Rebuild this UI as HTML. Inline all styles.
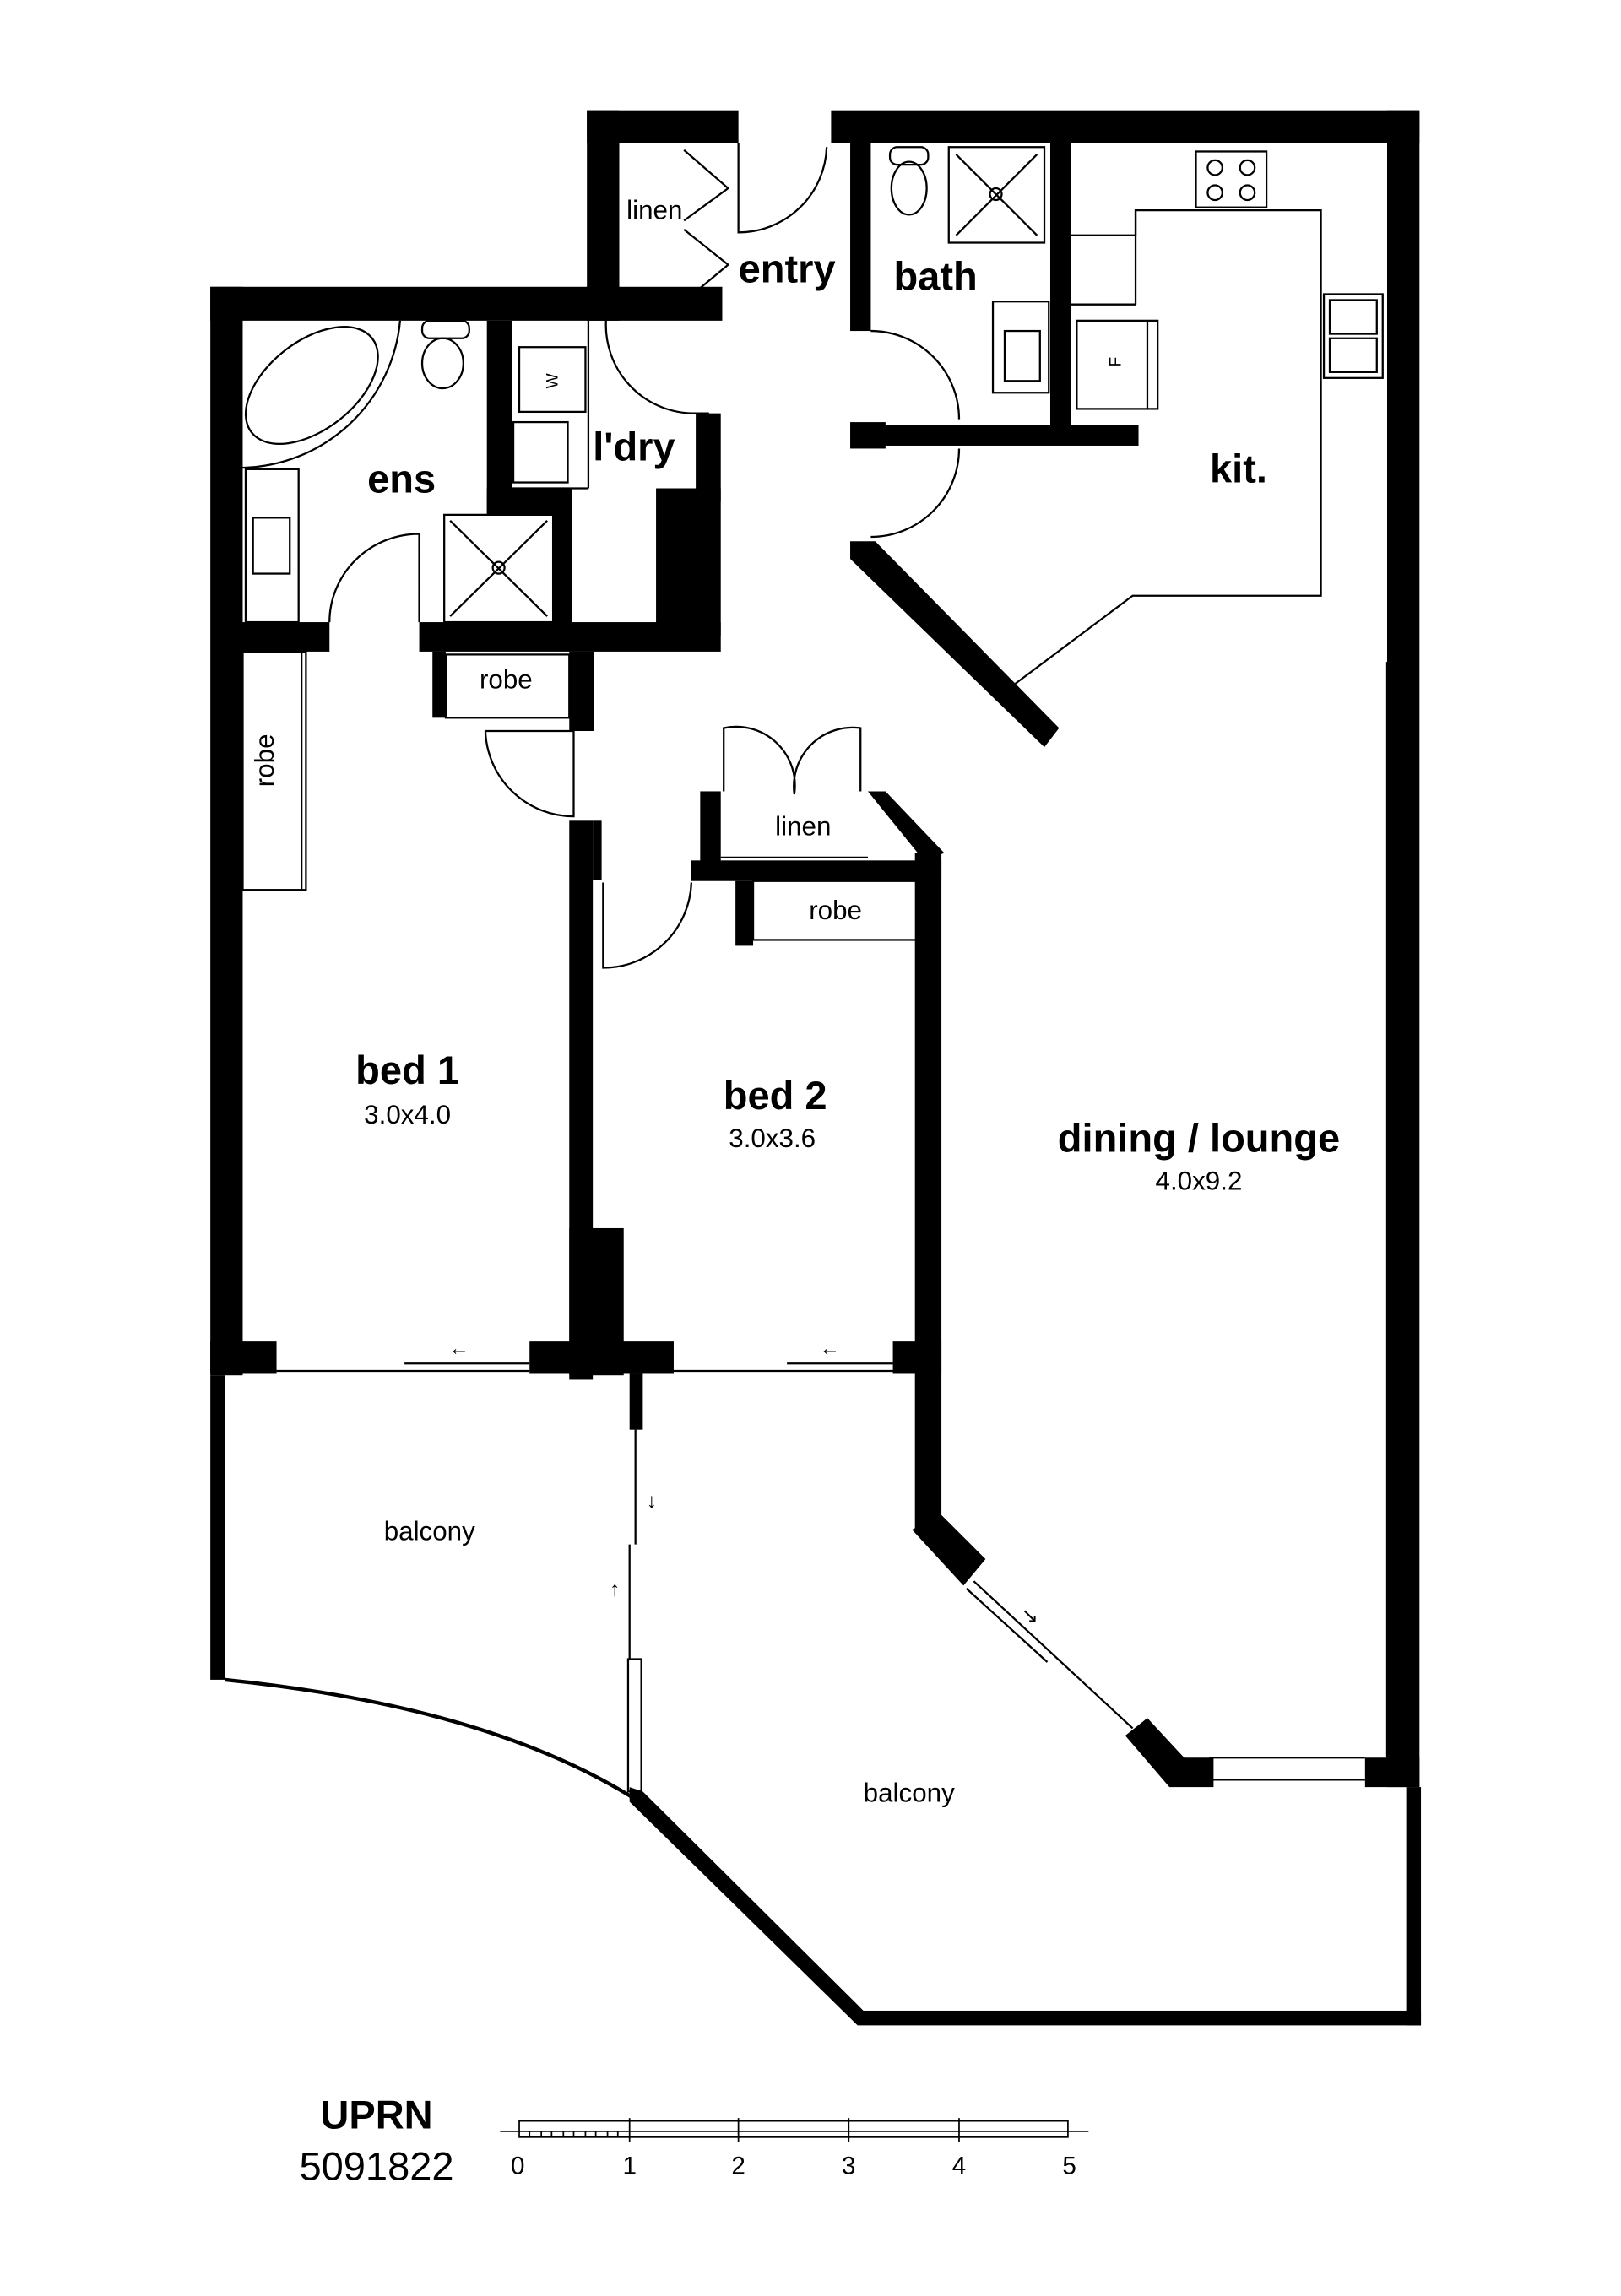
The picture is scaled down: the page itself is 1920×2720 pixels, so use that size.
<!DOCTYPE html>
<html><head><style>html,body{margin:0;padding:0;background:#fff}svg{display:block}</style></head>
<body>
<svg width="1920" height="2720" viewBox="0 0 1102 1561" preserveAspectRatio="none" xmlns="http://www.w3.org/2000/svg" font-family="Liberation Sans, Arial, sans-serif">
<rect width="1102" height="1561" fill="#fff"/>
<g fill="#000">
<rect x="143" y="195" width="348" height="23"/>
<rect x="143" y="195" width="22" height="740"/>
<rect x="399" y="75" width="22" height="143"/>
<rect x="399" y="75" width="103" height="22"/>
<rect x="565" y="75" width="400" height="22"/>
<rect x="943" y="75" width="22" height="1140"/>
<rect x="578" y="97" width="14" height="128"/>
<rect x="714" y="97" width="14" height="205"/>
<rect x="578" y="287" width="24" height="18"/>
<rect x="590" y="289" width="184" height="14"/>
<polygon points="578,368 595,368 720,495 710,508 578,380"/>
<!-- ldry -->
<rect x="331" y="218" width="17" height="132"/>
<rect x="331" y="332" width="58" height="18"/>
<rect x="376" y="332" width="13" height="100"/>
<rect x="473" y="281" width="17" height="60"/>
<rect x="446" y="332" width="44" height="100"/>
<rect x="285" y="423" width="205" height="20"/>
<rect x="155" y="423" width="69" height="20"/>
<!-- robe -->
<rect x="294" y="443" width="9" height="45"/>
<rect x="387" y="443" width="17" height="54"/>
<!-- bed1 right wall -->
<rect x="387" y="558" width="16" height="380"/>
<rect x="387" y="835" width="37" height="100"/>
<rect x="403" y="558" width="6" height="40"/>
<rect x="470" y="585" width="170" height="14"/>
<rect x="476" y="538" width="14" height="50"/>
<rect x="500" y="599" width="12" height="44"/>
<polygon points="590,538 602,538 642,580 628,585"/>
<rect x="622" y="580" width="18" height="460"/>
<rect x="143" y="912" width="45" height="22"/>
<rect x="360" y="912" width="98" height="22"/>
<rect x="607" y="912" width="33" height="22"/>
<rect x="428" y="934" width="9" height="38"/>
<polygon points="620,1040 640,1030 670,1060 655,1078"/>
<polygon points="765,1180 780,1168 805,1195 795,1215"/>
<rect x="795" y="1195" width="30" height="20"/>
<rect x="928" y="1195" width="37" height="20"/>
<rect x="143" y="935" width="10" height="207"/>
<rect x="956" y="1215" width="10" height="162"/>
<rect x="583" y="1367" width="383" height="10"/>
<polygon points="428,1215 437,1218 590,1370 583,1377 428,1225"/>
</g>
<g fill="none" stroke="#000" stroke-width="1.3">
<line x1="188" y1="932" x2="360" y2="932"/><line x1="275" y1="927" x2="360" y2="927"/>
<line x1="458" y1="932" x2="607" y2="932"/><line x1="535" y1="927" x2="607" y2="927"/>
<line x1="943" y1="450" x2="943" y2="1195"/>
<line x1="822" y1="1195" x2="928" y2="1195"/><line x1="822" y1="1210" x2="928" y2="1210"/>
<line x1="620" y1="1368" x2="945" y2="1368"/><line x1="620" y1="1373" x2="945" y2="1373"/>
<line x1="432" y1="972" x2="432" y2="1050"/><line x1="428" y1="1050" x2="428" y2="1128"/>
<rect x="427" y="1128" width="9" height="90"/>
<line x1="662" y1="1075" x2="770" y2="1175"/><line x1="657" y1="1080" x2="712" y2="1130"/>
<line x1="438" y1="1232" x2="545" y2="1338"/><line x1="445" y1="1228" x2="550" y2="1333"/>
<path d="M153,1142 Q330,1160 430,1222" stroke-width="2.5"/>
<rect x="165" y="443" width="43" height="162"/>
<line x1="205" y1="443" x2="205" y2="605"/>
<rect x="303" y="445" width="84" height="43"/>
<rect x="512" y="599" width="115" height="40"/>
<line x1="490" y1="583" x2="590" y2="583"/>
<path d="M224,423 A61,60 0 0 1 285,363 L285,423"/>
<path d="M330,497 L390,497 L390,555 A60,60 0 0 1 330,497"/>
<path d="M410,600 L410,658 A60,60 0 0 0 470,600"/>
<path d="M492,538 L492,495 A40,40 0 0 1 540,540 A40,40 0 0 1 585,495 L585,538"/>
<path d="M502,97 L502,158 A60,60 0 0 0 562,100"/>
<path d="M412,218 A60,60 0 0 0 470,281 L482,281"/>
<path d="M592,225 A60,60 0 0 1 652,285"/>
<path d="M592,365 A60,60 0 0 0 652,305"/>
<path d="M465,102 L495,128 L465,150 M465,156 L495,180 L465,205"/>
<!-- ens fixtures -->
<ellipse cx="212" cy="262" rx="52" ry="30" transform="rotate(-38 212 262)"/>
<path d="M165,318 A110,110 0 0 0 272,218"/>
<rect x="167" y="319" width="36" height="104"/>
<rect x="172" y="352" width="25" height="38"/>
<ellipse cx="301" cy="247" rx="14" ry="17"/>
<rect x="287" y="218" width="32" height="12" rx="5"/>
<rect x="302" y="350" width="74" height="73"/>
<line x1="306" y1="354" x2="372" y2="419"/><line x1="372" y1="354" x2="306" y2="419"/>
<circle cx="339" cy="386" r="4"/>
<rect x="353" y="236" width="45" height="44"/>
<rect x="349" y="287" width="37" height="41"/>
<line x1="400" y1="218" x2="400" y2="332"/>
<line x1="348" y1="332" x2="400" y2="332"/>
<!-- bath fixtures -->
<rect x="645" y="100" width="65" height="65"/>
<line x1="650" y1="105" x2="705" y2="160"/><line x1="705" y1="105" x2="650" y2="160"/>
<circle cx="677" cy="132" r="4"/>
<ellipse cx="618" cy="128" rx="12" ry="18"/>
<rect x="605" y="100" width="26" height="12" rx="5"/>
<rect x="675" y="205" width="38" height="62"/>
<rect x="683" y="225" width="24" height="34"/>
<path d="M728,160 L772,160 L772,143 L898,143 L898,405 L770,405 L690,465"/>
<line x1="772" y1="143" x2="772" y2="207"/>
<path d="M728,207 L772,207"/>
<rect x="813" y="103" width="48" height="38"/>
<circle cx="826" cy="114" r="5"/><circle cx="848" cy="114" r="5"/><circle cx="826" cy="131" r="5"/><circle cx="848" cy="131" r="5"/>
<rect x="900" y="200" width="40" height="57"/>
<rect x="904" y="204" width="32" height="23"/><rect x="904" y="230" width="32" height="23"/>
<rect x="732" y="218" width="55" height="60"/>
<line x1="780" y1="218" x2="780" y2="278"/>
</g>
<g font-size="11" fill="#000">
<text x="376" y="262" transform="rotate(-90 376 259)" text-anchor="middle">W</text>
<text x="762" y="250" transform="rotate(-90 760 248)" text-anchor="middle">F</text>
</g>
<g font-size="14" fill="#000" text-anchor="middle">
<text x="564" y="921">←</text><text x="312" y="921">←</text>
<text x="443" y="1025">↓</text><text x="418" y="1085">↑</text><text x="700" y="1103">↘</text>
</g>
<g fill="#000" text-anchor="middle">
<g font-weight="bold" font-size="27">
<text x="535" y="192">entry</text><text x="636" y="197">bath</text><text x="273" y="335">ens</text><text x="431" y="313">l'dry</text><text x="842" y="328">kit.</text>
<text x="277" y="737">bed 1</text><text x="527" y="754">bed 2</text><text x="815" y="783">dining / lounge</text>
<text x="256" y="1447">UPRN</text>
</g>
<g font-size="18">
<text x="445" y="149">linen</text><text x="344" y="468">robe</text><text x="546" y="568">linen</text><text x="568" y="625">robe</text>
<text x="192" y="523" transform="rotate(-90 186 523)">robe</text>
<text x="277" y="764">3.0x4.0</text><text x="525" y="780">3.0x3.6</text><text x="815" y="809">4.0x9.2</text>
<text x="292" y="1047">balcony</text><text x="618" y="1225">balcony</text>
</g>
<text x="256" y="1482" font-size="27">5091822</text>
<g font-size="17"><text x="352" y="1478">0</text><text x="428" y="1478">1</text><text x="502" y="1478">2</text><text x="577" y="1478">3</text><text x="652" y="1478">4</text><text x="727" y="1478">5</text></g>
</g>
<g fill="none" stroke="#000" stroke-width="1">
<rect x="353" y="1442" width="373" height="11"/>
<line x1="340" y1="1449" x2="740" y2="1449"/>
<line x1="428" y1="1440" x2="428" y2="1456"/><line x1="502" y1="1440" x2="502" y2="1456"/><line x1="577" y1="1440" x2="577" y2="1456"/><line x1="652" y1="1440" x2="652" y2="1456"/>
<path d="M360,1449V1453M368,1449V1453M375,1449V1453M383,1449V1453M390,1449V1453M398,1449V1453M405,1449V1453M413,1449V1453M420,1449V1453"/>
</g>
</svg>
</body></html>
